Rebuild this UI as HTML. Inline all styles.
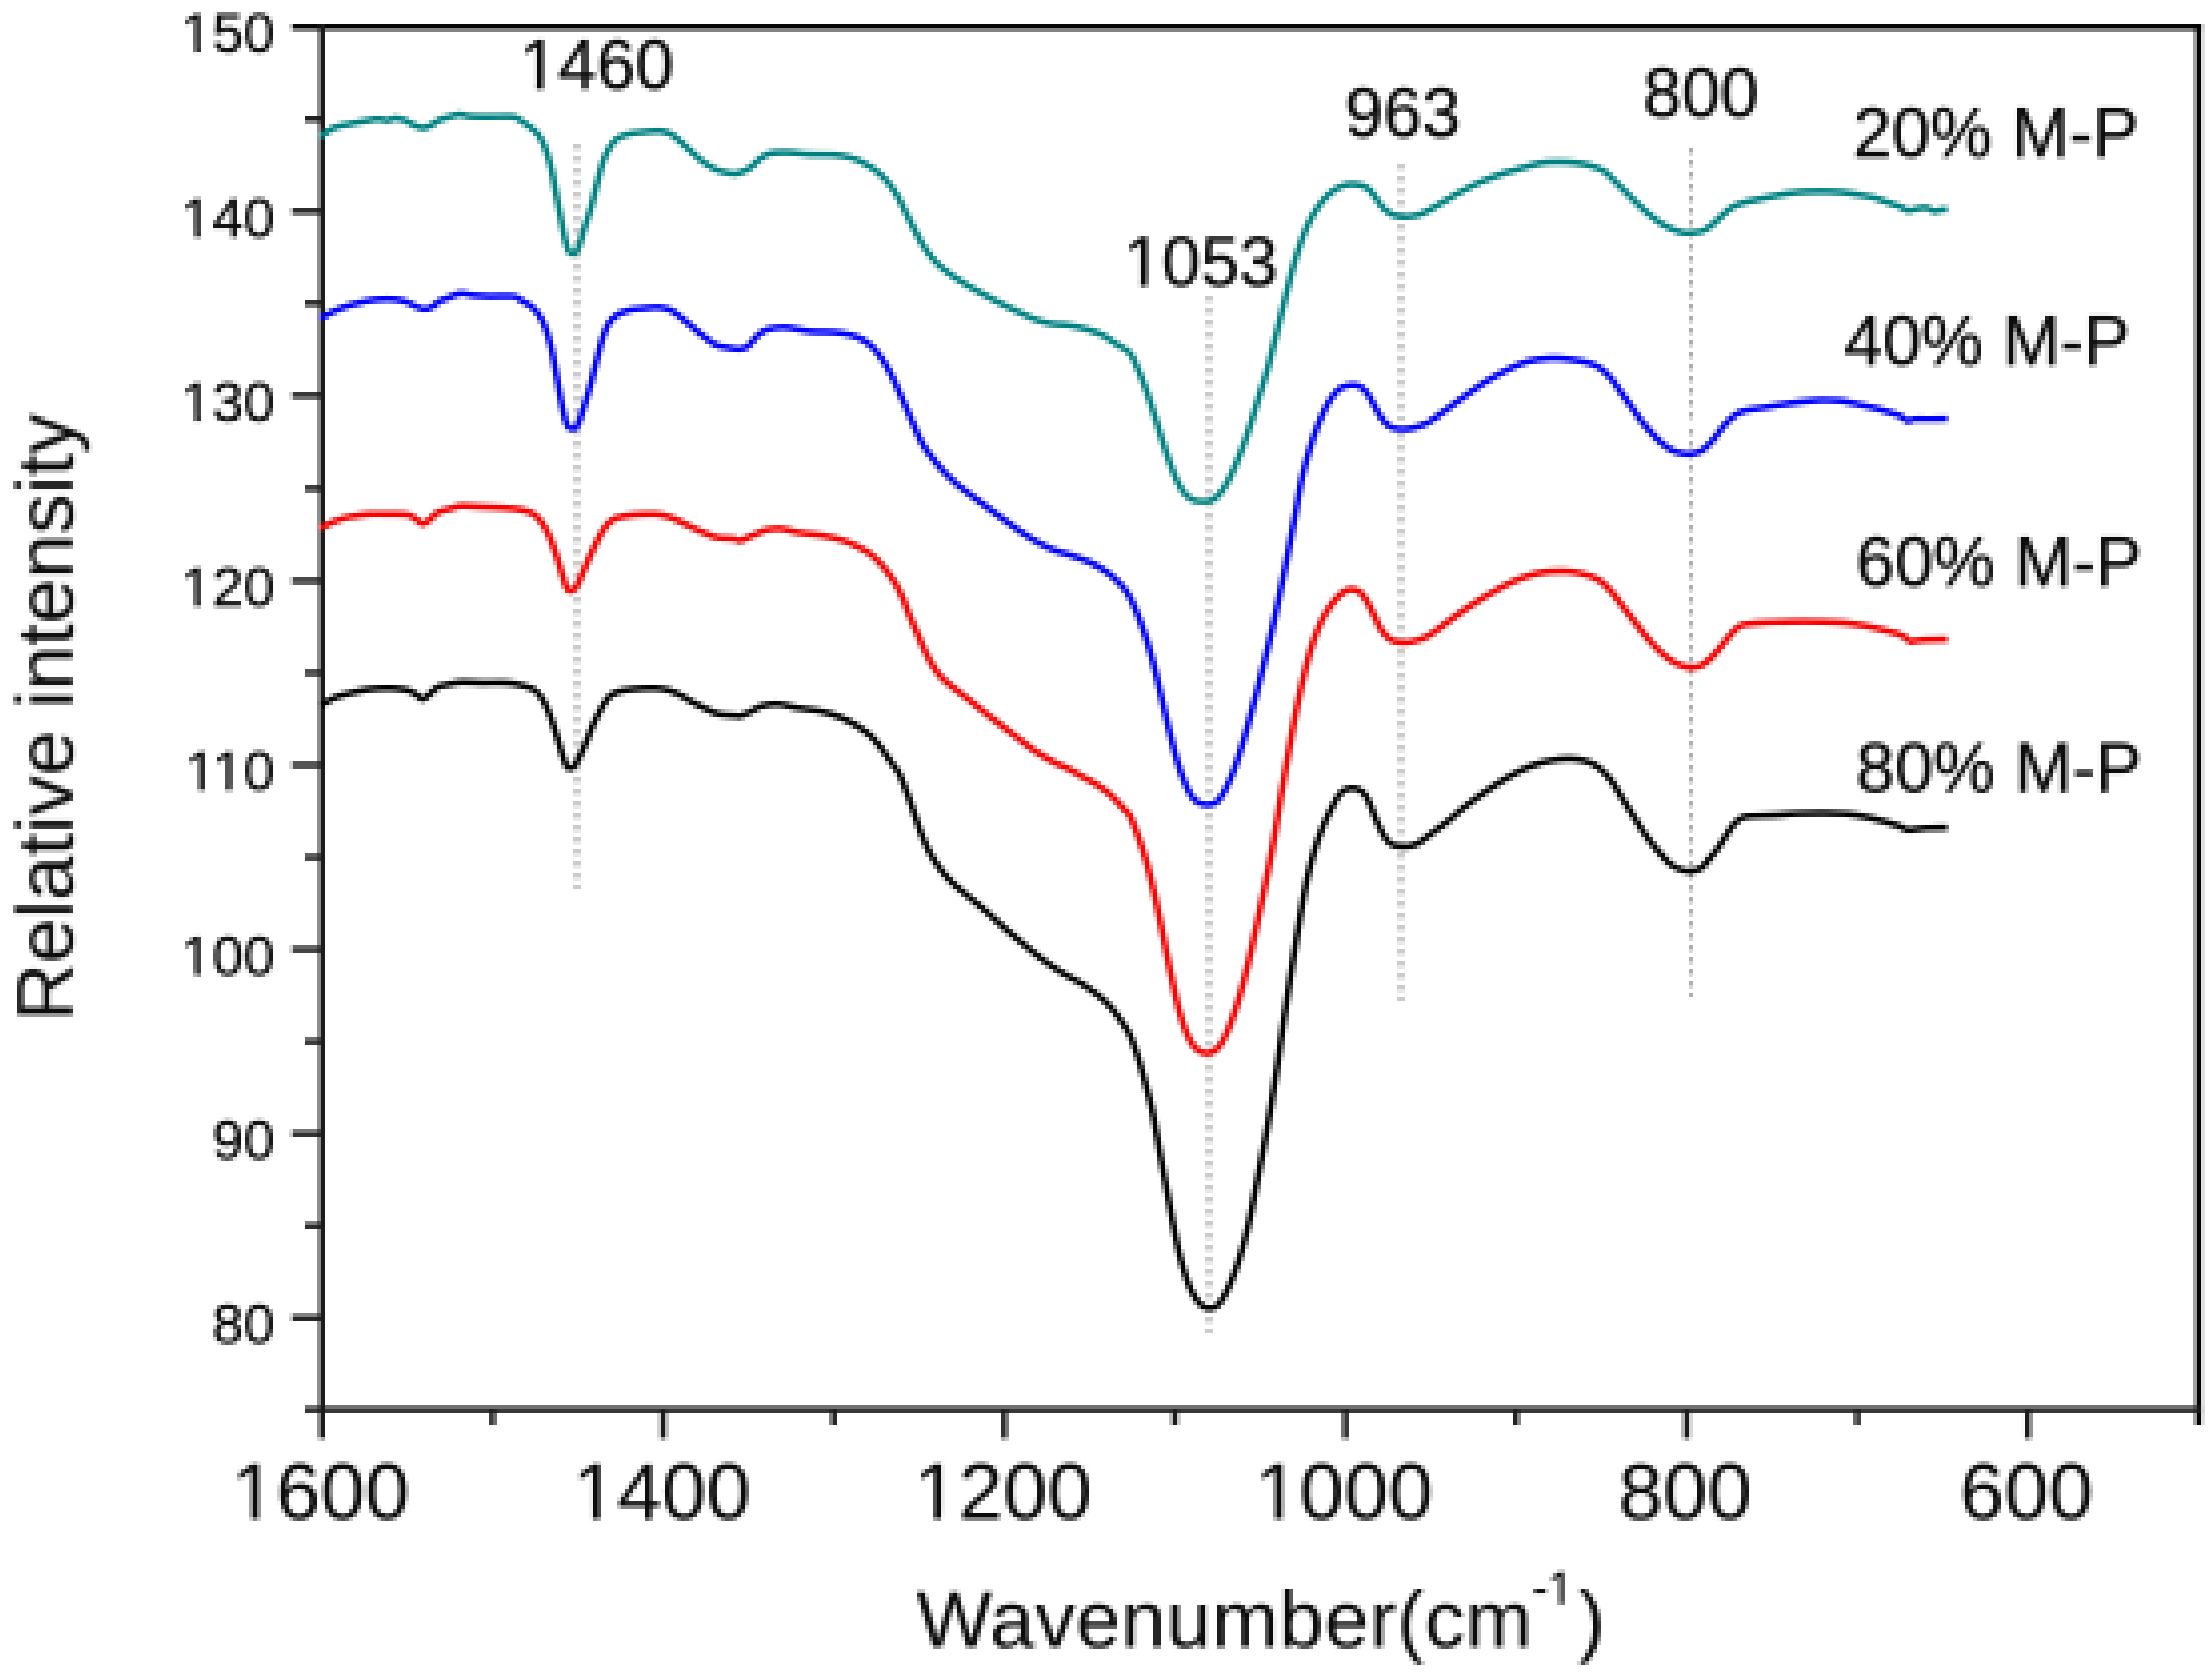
<!DOCTYPE html>
<html lang="en"><head><meta charset="utf-8"><title>FTIR spectra - relative intensity vs wavenumber</title>
<style>html,body{margin:0;padding:0;background:#fff}body{width:2208px;height:1677px;overflow:hidden}svg{display:block}text{font-family:"Liberation Sans",sans-serif;fill:#0c0c0c;stroke:#0c0c0c;stroke-width:0.6}text.big{stroke-width:0.15}</style></head><body>
<svg width="2208" height="1677" viewBox="0 0 2208 1677">
<defs><filter id="fxB" x="0" y="417" width="2208" height="1260" filterUnits="userSpaceOnUse" color-interpolation-filters="sRGB"><feConvolveMatrix in="SourceGraphic" order="4 1" kernelMatrix="1 1 1 1" divisor="4" targetX="0" targetY="0" edgeMode="duplicate" preserveAlpha="false" result="ax"/><feConvolveMatrix in="ax" order="1 4" kernelMatrix="1 1 1 1" divisor="4" targetX="0" targetY="0" edgeMode="duplicate" preserveAlpha="false" result="avg"/><feFlood x="1" y="417" width="1" height="1" flood-color="#000" result="dot"/><feComposite in="dot" in2="dot" operator="over" x="1" y="417" width="4" height="4" result="cell"/><feTile in="cell" result="grid"/><feComposite in="avg" in2="grid" operator="in" result="s0"/><feConvolveMatrix in="s0" order="4 1" kernelMatrix="1 1 1 1" divisor="1" targetX="3" targetY="0" edgeMode="none" preserveAlpha="false" result="e1"/><feConvolveMatrix in="e1" order="1 4" kernelMatrix="1 1 1 1" divisor="1" targetX="0" targetY="3" edgeMode="none" preserveAlpha="false"/></filter><filter id="fxA" x="0" y="0" width="2208" height="420" filterUnits="userSpaceOnUse" color-interpolation-filters="sRGB"><feConvolveMatrix in="SourceGraphic" order="4 1" kernelMatrix="1 1 1 1" divisor="4" targetX="0" targetY="0" edgeMode="duplicate" preserveAlpha="false" result="ax"/><feConvolveMatrix in="ax" order="1 4" kernelMatrix="1 1 1 1" divisor="4" targetX="0" targetY="0" edgeMode="duplicate" preserveAlpha="false" result="avg"/><feFlood x="1" y="0" width="1" height="1" flood-color="#000" result="dot"/><feComposite in="dot" in2="dot" operator="over" x="1" y="0" width="4" height="4" result="cell"/><feTile in="cell" result="grid"/><feComposite in="avg" in2="grid" operator="in" result="s0"/><feConvolveMatrix in="s0" order="4 1" kernelMatrix="1 1 1 1" divisor="1" targetX="3" targetY="0" edgeMode="none" preserveAlpha="false" result="e1"/><feConvolveMatrix in="e1" order="1 4" kernelMatrix="1 1 1 1" divisor="1" targetX="0" targetY="3" edgeMode="none" preserveAlpha="false"/></filter><clipPath id="nofoot" clipPathUnits="userSpaceOnUse"><path clip-rule="evenodd" d="M0 0H2208 V1677 H0ZM183.85 968.69H194.72V977.00H183.85ZM200.30 968.69H210.72V977.00H200.30ZM188.02 784.39H198.89V792.70H188.02ZM204.47 784.39H214.90V792.70H204.47ZM215.15 784.39H226.02V792.70H215.15ZM231.59 784.39H242.02V792.70H231.59ZM183.85 600.19H194.72V608.50H183.85ZM200.30 600.19H210.72V608.50H200.30ZM183.85 414.89H194.72V423.20H183.85ZM200.30 414.89H210.72V423.20H200.30ZM183.85 230.69H194.72V239.00H183.85ZM200.30 230.69H210.72V239.00H200.30ZM183.85 46.39H194.72V54.70H183.85ZM200.30 46.39H210.72V54.70H200.30ZM1260.03 1511.75H1275.06V1521.38H1260.03ZM1282.28 1511.75H1296.68V1521.38H1282.28ZM918.93 1511.75H933.96V1521.38H918.93ZM941.18 1511.75H955.58V1521.38H941.18ZM577.73 1511.75H592.76V1521.38H577.73ZM599.98 1511.75H614.38V1521.38H599.98ZM236.53 1511.75H251.56V1521.38H236.53ZM258.78 1511.75H273.18V1521.38H258.78ZM523.38 81.51H536.56V90.80H523.38ZM543.31 81.51H555.95V90.80H543.31ZM1127.38 279.01H1140.56V288.30H1127.38ZM1147.31 279.01H1159.95V288.30H1147.31ZM1550.02 1598.76H1559.08V1606.30H1550.02ZM1563.75 1598.76H1572.45V1606.30H1563.75Z"/></clipPath></defs>
<g filter="url(#fxB)"><use href="#chart"/></g>
<g filter="url(#fxA)"><g id="chart">
<rect width="2208" height="1677" fill="#fff"/>
<g stroke="#1c1c1c" stroke-width="6.0" fill="none">
<path stroke="#070707" d="M292.0 27.0 H2201.5"/>
<path stroke="#030303" d="M2198.5 24.0 V1425.1"/>
<path d="M305.0 1409.4 H2201.5"/>
<path d="M322.0 24.0 V1438.6"/>
<path d="M292.0 1317.8 H322.0"/>
<path d="M305.0 1225.7 H322.0"/>
<path d="M292.0 1133.6 H322.0"/>
<path d="M305.0 1041.4 H322.0"/>
<path d="M292.0 949.3 H322.0"/>
<path d="M305.0 857.2 H322.0"/>
<path d="M292.0 765.0 H322.0"/>
<path d="M305.0 672.9 H322.0"/>
<path d="M292.0 580.8 H322.0"/>
<path d="M305.0 488.6 H322.0"/>
<path d="M292.0 395.5 H322.0"/>
<path d="M305.0 303.4 H322.0"/>
<path d="M292.0 211.3 H322.0"/>
<path d="M305.0 119.1 H322.0"/>
<path d="M2027.9 1409.4 V1438.6"/>
<path d="M1857.3 1409.4 V1425.1"/>
<path d="M1686.7 1409.4 V1438.6"/>
<path d="M1516.1 1409.4 V1425.1"/>
<path d="M1345.5 1409.4 V1438.6"/>
<path d="M1174.9 1409.4 V1425.1"/>
<path d="M1004.4 1409.4 V1438.6"/>
<path d="M833.8 1409.4 V1425.1"/>
<path d="M663.2 1409.4 V1438.6"/>
<path d="M492.6 1409.4 V1425.1"/>
</g>
<line x1="577.0" y1="144" x2="577.0" y2="412" stroke="#cbcbcb" stroke-width="8.0" stroke-dasharray="4 8"/>
<line x1="577.0" y1="417" x2="577.0" y2="889" stroke="#cbcbcb" stroke-width="8.0" stroke-dasharray="4 8"/>
<line x1="577.0" y1="148" x2="577.0" y2="416" stroke="#e9e9e9" stroke-width="8.0" stroke-dasharray="4 8"/>
<line x1="577.0" y1="421" x2="577.0" y2="881" stroke="#e9e9e9" stroke-width="8.0" stroke-dasharray="4 8"/>
<line x1="1209.0" y1="296" x2="1209.0" y2="420" stroke="#cbcbcb" stroke-width="8.0" stroke-dasharray="4 8"/>
<line x1="1209.0" y1="429" x2="1209.0" y2="1333" stroke="#cbcbcb" stroke-width="8.0" stroke-dasharray="4 8"/>
<line x1="1209.0" y1="300" x2="1209.0" y2="412" stroke="#e9e9e9" stroke-width="8.0" stroke-dasharray="4 8"/>
<line x1="1209.0" y1="421" x2="1209.0" y2="1325" stroke="#e9e9e9" stroke-width="8.0" stroke-dasharray="4 8"/>
<line x1="1401.0" y1="164" x2="1401.0" y2="420" stroke="#cbcbcb" stroke-width="8.0" stroke-dasharray="4 8"/>
<line x1="1401.0" y1="433" x2="1401.0" y2="1001" stroke="#cbcbcb" stroke-width="8.0" stroke-dasharray="4 8"/>
<line x1="1401.0" y1="168" x2="1401.0" y2="412" stroke="#e9e9e9" stroke-width="8.0" stroke-dasharray="4 8"/>
<line x1="1401.0" y1="425" x2="1401.0" y2="993" stroke="#e9e9e9" stroke-width="8.0" stroke-dasharray="4 8"/>
<line x1="1691.0" y1="148" x2="1691.0" y2="416" stroke="#aeaeae" stroke-width="4.0" stroke-dasharray="4 8"/>
<line x1="1691.0" y1="429" x2="1691.0" y2="997" stroke="#aeaeae" stroke-width="4.0" stroke-dasharray="4 8"/>
<line x1="1691.0" y1="152" x2="1691.0" y2="420" stroke="#d8d8d8" stroke-width="4.0" stroke-dasharray="4 8"/>
<line x1="1691.0" y1="433" x2="1691.0" y2="989" stroke="#d8d8d8" stroke-width="4.0" stroke-dasharray="4 8"/>
<path d="M320.0 705.8C322.6 704.3 330.9 699.3 335.9 697.2C340.9 695.1 344.2 694.5 349.9 693.2C355.5 691.9 363.2 690.0 369.8 689.2C376.4 688.4 383.4 688.0 389.7 688.2C396.0 688.4 403.3 689.2 407.6 690.2C411.9 691.2 413.1 692.7 415.6 694.2C418.1 695.7 420.3 699.2 422.6 699.2C424.9 699.2 427.1 696.2 429.6 694.2C432.1 692.2 434.2 688.9 437.5 687.2C440.8 685.5 445.5 685.0 449.5 684.2C453.5 683.4 456.2 682.4 461.5 682.2C466.8 682.0 473.8 682.7 481.4 682.8C489.0 682.9 500.7 682.4 507.3 682.8C513.9 683.2 516.9 684.1 521.2 685.2C525.5 686.3 529.9 687.2 533.2 689.2C536.5 691.2 538.6 693.2 541.2 697.2C543.9 701.2 546.5 706.5 549.1 713.1C551.8 719.7 554.8 729.7 557.1 737.0C559.4 744.3 561.4 752.0 563.1 757.0C564.8 762.0 565.7 765.1 567.1 766.9C568.5 768.7 569.9 768.7 571.5 767.9C573.1 767.1 574.8 765.7 577.0 761.9C579.2 758.1 582.3 751.1 585.0 745.0C587.7 738.9 590.3 731.1 593.0 725.1C595.7 719.1 598.4 713.8 601.0 709.1C603.6 704.5 606.2 700.0 608.9 697.2C611.5 694.4 612.9 693.5 616.9 692.2C620.9 690.9 626.5 689.9 632.8 689.2C639.1 688.5 648.8 688.0 654.8 688.2C660.8 688.4 664.4 689.0 668.7 690.2C673.0 691.4 676.7 693.2 680.7 695.2C684.7 697.2 688.3 699.9 692.6 702.2C696.9 704.5 702.3 707.1 706.6 709.1C710.9 711.1 713.9 713.0 718.5 714.1C723.1 715.2 730.9 715.2 734.5 715.5C738.1 715.8 737.4 716.6 740.0 716.0C742.6 715.4 746.4 713.7 750.0 712.0C753.6 710.3 757.2 707.3 761.9 706.0C766.5 704.7 771.9 703.7 777.9 704.0C783.9 704.3 790.8 706.8 797.8 708.0C804.8 709.2 812.7 709.5 819.7 711.0C826.7 712.5 833.6 714.7 839.6 717.0C845.6 719.3 850.6 722.0 855.6 725.0C860.6 728.0 865.5 731.4 869.5 734.9C873.5 738.4 876.5 742.2 879.5 745.9C882.5 749.6 885.2 753.6 887.5 756.9C889.8 760.2 891.5 762.7 893.5 765.5C895.5 768.3 897.1 769.2 899.4 773.9C901.7 778.6 904.9 787.2 907.4 793.9C909.9 800.5 912.1 807.2 914.4 813.8C916.7 820.4 918.8 827.4 921.3 833.7C923.8 840.0 926.3 846.1 929.3 851.7C932.3 857.4 935.6 862.6 939.3 867.6C942.9 872.6 946.6 877.0 951.2 881.6C955.9 886.2 961.6 890.7 967.2 895.5C972.9 900.3 978.8 905.0 985.1 910.5C991.4 916.0 998.4 922.6 1005.0 928.4C1011.6 934.2 1018.4 939.8 1025.0 945.3C1031.7 950.8 1038.6 956.6 1044.9 961.3C1051.2 965.9 1056.8 969.6 1062.8 973.2C1068.8 976.9 1075.1 979.7 1080.8 983.2C1086.5 986.7 1091.7 990.2 1096.7 994.2C1101.7 998.2 1106.4 1002.3 1110.7 1007.1C1115.0 1011.9 1119.4 1018.4 1122.6 1023.1C1125.8 1027.8 1127.4 1029.5 1130.0 1035.2C1132.6 1040.9 1135.3 1048.8 1138.0 1057.1C1140.7 1065.4 1143.7 1076.7 1145.9 1085.0C1148.2 1093.3 1149.8 1099.5 1151.5 1107.0C1153.2 1114.5 1154.2 1120.4 1155.9 1129.9C1157.6 1139.4 1159.9 1152.8 1161.9 1163.8C1163.9 1174.8 1165.9 1185.1 1167.9 1195.7C1169.9 1206.3 1171.8 1217.5 1173.8 1227.5C1175.8 1237.5 1177.6 1246.8 1179.8 1255.4C1182.0 1264.1 1184.5 1272.8 1186.8 1279.4C1189.1 1286.1 1191.3 1291.0 1193.8 1295.3C1196.3 1299.6 1199.0 1303.1 1201.7 1305.3C1204.4 1307.5 1207.0 1308.3 1209.7 1308.3C1212.4 1308.3 1215.0 1307.8 1217.7 1305.3C1220.4 1302.8 1223.1 1298.3 1225.7 1293.3C1228.3 1288.3 1230.9 1282.4 1233.6 1275.4C1236.2 1268.4 1238.9 1260.8 1241.6 1251.5C1244.3 1242.2 1246.9 1231.6 1249.6 1219.6C1252.2 1207.6 1254.8 1193.3 1257.5 1179.7C1260.2 1166.1 1263.2 1150.7 1265.5 1137.9C1267.8 1125.1 1269.5 1115.0 1271.5 1102.9C1273.5 1090.8 1275.5 1078.4 1277.5 1065.1C1279.5 1051.8 1281.4 1036.8 1283.4 1023.2C1285.4 1009.6 1287.4 996.4 1289.4 983.4C1291.4 970.4 1293.4 957.8 1295.4 945.5C1297.4 933.2 1299.4 920.9 1301.4 909.6C1303.4 898.3 1305.1 888.1 1307.4 877.8C1309.7 867.5 1312.7 856.5 1315.3 847.9C1317.9 839.2 1320.6 832.4 1323.3 825.9C1326.0 819.4 1328.6 814.0 1331.3 808.8C1334.0 803.6 1336.5 798.2 1339.2 794.9C1341.9 791.6 1344.2 789.9 1347.2 788.9C1350.2 787.9 1354.2 787.9 1357.2 788.9C1360.2 789.9 1362.8 791.9 1365.1 794.9C1367.4 797.9 1369.1 802.4 1371.1 806.9C1373.1 811.4 1374.9 817.2 1377.1 822.0C1379.3 826.8 1381.8 832.2 1384.1 835.9C1386.4 839.5 1387.9 842.1 1391.1 843.9C1394.2 845.7 1398.7 846.9 1403.0 846.9C1407.3 846.9 1412.3 846.1 1417.0 843.9C1421.7 841.7 1425.9 837.5 1430.9 833.9C1435.9 830.2 1441.2 826.5 1446.9 822.0C1452.6 817.5 1458.2 812.1 1464.8 806.9C1471.4 801.7 1479.4 795.9 1486.7 790.9C1494.0 785.9 1501.6 781.0 1508.6 777.0C1515.6 773.0 1521.9 769.7 1528.6 767.0C1535.2 764.3 1541.6 762.4 1548.5 761.0C1555.4 759.6 1563.1 758.4 1570.0 758.6C1576.9 758.8 1584.4 760.4 1589.7 762.3C1595.0 764.2 1598.1 767.1 1601.7 770.2C1605.3 773.4 1608.3 776.7 1611.6 781.2C1614.9 785.7 1618.3 791.8 1621.6 797.1C1624.9 802.4 1628.3 807.8 1631.6 813.1C1634.9 818.4 1638.2 824.0 1641.5 829.0C1644.8 834.0 1648.2 838.7 1651.5 843.0C1654.8 847.3 1658.2 851.2 1661.5 854.9C1664.8 858.5 1668.1 862.4 1671.4 864.9C1674.7 867.4 1678.1 868.8 1681.4 869.9C1684.7 871.0 1688.0 871.6 1691.3 871.3C1694.6 871.0 1698.3 870.0 1701.3 867.9C1704.3 865.8 1706.6 862.0 1709.3 858.9C1712.0 855.8 1714.6 852.6 1717.3 849.0C1720.0 845.4 1722.5 841.0 1725.2 837.0C1727.9 833.0 1730.5 828.1 1733.2 825.0C1735.9 821.9 1738.6 819.6 1741.2 818.1C1743.8 816.6 1743.5 816.6 1749.1 816.1C1754.7 815.6 1766.7 815.5 1775.0 815.1C1783.3 814.7 1790.7 813.8 1799.0 813.5C1807.3 813.2 1816.6 813.0 1824.9 813.1C1833.2 813.2 1841.8 813.4 1848.8 814.1C1855.8 814.8 1861.0 815.9 1866.7 817.1C1872.4 818.3 1877.4 819.6 1882.7 821.1C1888.0 822.6 1894.4 824.5 1898.6 826.0C1902.8 827.5 1904.9 829.4 1907.6 830.0C1910.2 830.6 1911.0 829.7 1914.5 829.4C1918.0 829.1 1923.0 828.3 1928.5 828.0C1934.0 827.7 1944.3 827.7 1947.5 827.6" fill="none" stroke="#000000" stroke-width="6.2" stroke-linejoin="round"/>
<path d="M320.0 528.2C322.6 527.0 330.9 522.7 335.9 520.8C340.9 518.9 344.2 517.9 349.9 516.8C355.5 515.7 363.2 514.6 369.8 514.2C376.4 513.8 383.4 514.1 389.7 514.2C396.0 514.3 403.3 514.0 407.6 514.8C411.9 515.6 413.1 517.3 415.6 518.8C418.1 520.3 420.3 523.6 422.6 523.8C424.9 524.0 427.1 521.6 429.6 519.8C432.1 518.0 434.2 514.6 437.5 512.8C440.8 511.0 445.5 510.0 449.5 508.9C453.5 507.8 456.2 506.2 461.5 505.9C466.8 505.6 474.1 506.6 481.4 506.9C488.7 507.2 498.7 507.4 505.3 507.9C511.9 508.4 516.6 508.9 521.2 509.9C525.9 510.9 529.9 511.8 533.2 513.8C536.5 515.8 538.6 518.1 541.2 521.8C543.9 525.5 546.5 529.8 549.1 535.8C551.8 541.8 554.8 550.7 557.1 557.7C559.4 564.7 561.4 572.5 563.1 577.6C564.8 582.8 565.6 586.4 567.1 588.6C568.6 590.8 570.3 591.4 572.1 590.6C573.9 589.8 575.9 587.4 578.0 583.6C580.1 579.8 582.5 573.2 585.0 567.6C587.5 562.0 590.3 555.3 593.0 549.7C595.7 544.1 598.4 538.3 601.0 533.8C603.6 529.3 606.2 525.5 608.9 522.8C611.5 520.1 612.9 519.1 616.9 517.8C620.9 516.5 626.5 515.4 632.8 514.8C639.1 514.2 648.8 513.9 654.8 514.2C660.8 514.5 664.4 515.5 668.7 516.8C673.0 518.1 676.7 520.0 680.7 521.8C684.7 523.6 688.3 525.8 692.6 527.8C696.9 529.8 702.3 532.1 706.6 533.8C710.9 535.5 713.9 537.0 718.5 537.8C723.1 538.6 730.9 538.3 734.5 538.8C738.1 539.3 737.1 541.1 740.0 540.6C742.9 540.1 747.7 537.5 752.0 535.7C756.3 534.0 761.2 531.3 765.9 530.1C770.5 528.9 774.2 528.3 779.9 528.7C785.5 529.1 792.5 531.5 799.8 532.7C807.1 533.9 816.4 534.4 823.7 535.7C831.0 537.0 837.6 538.6 843.6 540.6C849.6 542.6 854.6 544.9 859.6 547.6C864.6 550.3 869.2 553.0 873.5 556.6C877.8 560.2 881.9 565.0 885.5 569.5C889.1 574.0 892.4 578.5 895.4 583.5C898.4 588.5 901.1 594.1 903.4 599.4C905.7 604.7 907.2 610.1 909.4 615.4C911.6 620.7 914.1 626.0 916.4 631.3C918.7 636.6 920.8 642.0 923.3 647.3C925.8 652.6 928.3 658.2 931.3 663.2C934.3 668.2 937.3 672.9 941.3 677.2C945.3 681.5 949.9 684.8 955.2 689.1C960.5 693.4 966.9 698.1 973.2 703.1C979.5 708.1 986.1 713.5 993.1 719.0C1000.1 724.5 1008.0 730.6 1015.0 735.9C1022.0 741.2 1028.2 746.4 1034.9 750.9C1041.6 755.4 1049.4 759.9 1054.9 762.8C1060.4 765.7 1063.3 766.1 1068.0 768.5C1072.7 770.9 1077.7 774.0 1082.8 776.9C1087.9 779.8 1093.7 782.6 1098.7 785.9C1103.7 789.2 1108.4 792.9 1112.7 796.9C1117.0 800.9 1121.7 806.6 1124.6 809.8C1127.5 813.0 1127.8 811.6 1130.0 816.0C1132.2 820.4 1135.3 828.6 1138.0 835.9C1140.7 843.2 1143.2 850.5 1145.9 859.8C1148.6 869.1 1151.2 880.1 1153.9 891.7C1156.6 903.3 1159.2 916.7 1161.9 929.6C1164.6 942.5 1167.2 956.8 1169.9 969.4C1172.6 982.0 1175.2 995.0 1177.8 1005.3C1180.4 1015.6 1183.1 1024.4 1185.8 1031.2C1188.5 1038.0 1191.1 1042.7 1193.8 1046.2C1196.5 1049.7 1199.0 1051.0 1201.7 1052.1C1204.4 1053.2 1207.0 1053.4 1209.7 1052.7C1212.4 1052.0 1215.0 1051.0 1217.7 1048.1C1220.4 1045.2 1223.1 1040.7 1225.7 1035.2C1228.3 1029.7 1230.9 1022.9 1233.6 1015.3C1236.2 1007.7 1238.9 999.0 1241.6 989.4C1244.3 979.8 1246.9 968.8 1249.6 957.5C1252.2 946.2 1254.8 933.9 1257.5 921.6C1260.2 909.3 1262.8 897.0 1265.5 883.7C1268.2 870.4 1270.8 857.0 1273.5 841.9C1276.2 826.8 1279.2 806.7 1281.5 792.9C1283.8 779.1 1285.4 770.3 1287.4 759.0C1289.4 747.7 1291.4 735.8 1293.4 725.2C1295.4 714.6 1297.2 705.3 1299.4 695.3C1301.6 685.3 1304.1 674.4 1306.4 665.4C1308.7 656.4 1310.8 648.8 1313.3 641.5C1315.8 634.2 1318.6 627.1 1321.3 621.5C1324.0 615.9 1326.3 611.9 1329.3 607.6C1332.3 603.3 1335.9 598.6 1339.2 595.6C1342.5 592.6 1345.9 590.3 1349.2 589.6C1352.5 588.9 1356.2 589.6 1359.2 591.6C1362.2 593.6 1364.6 597.6 1367.1 601.6C1369.6 605.6 1371.8 610.9 1374.1 615.5C1376.4 620.1 1378.6 625.7 1381.1 629.5C1383.6 633.3 1386.1 636.3 1389.1 638.5C1392.1 640.7 1395.0 642.0 1399.0 642.5C1403.0 643.0 1408.3 642.5 1413.0 641.5C1417.7 640.5 1421.9 639.2 1426.9 636.5C1431.9 633.8 1436.6 630.0 1442.9 625.5C1449.2 621.0 1457.5 614.6 1464.8 609.6C1472.1 604.6 1479.4 599.9 1486.7 595.6C1494.0 591.3 1501.6 587.0 1508.6 583.7C1515.6 580.4 1521.9 577.7 1528.6 575.7C1535.2 573.7 1541.6 572.4 1548.5 571.7C1555.4 571.0 1563.1 570.8 1570.0 571.5C1576.9 572.2 1584.4 574.2 1589.7 575.9C1595.0 577.6 1598.1 579.2 1601.7 581.9C1605.3 584.6 1608.3 588.1 1611.6 591.9C1614.9 595.7 1618.3 600.5 1621.6 604.8C1624.9 609.1 1628.3 613.5 1631.6 617.8C1634.9 622.1 1638.2 626.6 1641.5 630.7C1644.8 634.9 1648.2 639.0 1651.5 642.7C1654.8 646.4 1658.2 649.7 1661.5 652.7C1664.8 655.7 1668.1 658.5 1671.4 660.6C1674.7 662.8 1678.1 664.4 1681.4 665.6C1684.7 666.8 1688.0 667.6 1691.3 667.6C1694.6 667.6 1698.0 667.3 1701.3 665.6C1704.6 663.9 1708.3 660.4 1711.3 657.6C1714.3 654.8 1716.5 651.9 1719.2 648.7C1721.9 645.6 1724.5 641.9 1727.2 638.7C1729.9 635.5 1732.5 632.0 1735.2 629.7C1737.9 627.4 1738.9 625.9 1743.2 624.8C1747.5 623.6 1753.5 623.3 1761.1 622.8C1768.7 622.3 1779.4 622.0 1789.0 621.8C1798.6 621.6 1809.6 621.6 1818.9 621.8C1828.2 622.0 1837.2 622.1 1844.8 622.8C1852.4 623.5 1858.4 624.6 1864.7 625.8C1871.0 626.9 1877.1 628.3 1882.7 629.7C1888.3 631.1 1894.6 632.7 1898.6 634.1C1902.6 635.5 1904.6 636.9 1906.6 638.2C1908.6 639.5 1908.9 641.3 1910.6 641.7C1912.2 642.1 1913.5 641.0 1916.5 640.7C1919.5 640.4 1923.3 639.9 1928.5 639.7C1933.7 639.5 1944.3 639.4 1947.5 639.3" fill="none" stroke="#ff0000" stroke-width="6.2" stroke-linejoin="round"/>
<path d="M320.0 318.9C322.3 317.6 328.9 313.5 333.9 311.2C338.9 308.9 344.6 306.9 349.9 305.3C355.2 303.7 361.1 302.3 365.8 301.3C370.5 300.3 372.8 299.6 377.8 299.3C382.8 299.0 390.7 298.8 395.7 299.3C400.7 299.8 404.3 301.1 407.6 302.3C410.9 303.5 412.9 305.2 415.6 306.3C418.3 307.4 420.9 309.0 423.6 309.2C426.3 309.4 429.0 308.6 431.6 307.3C434.2 306.0 436.5 303.0 439.5 301.3C442.5 299.6 446.0 298.6 449.5 297.3C453.0 296.0 456.5 293.6 460.5 293.3C464.5 293.0 468.6 294.8 473.4 295.3C478.2 295.8 482.8 296.1 489.4 296.3C496.0 296.5 508.0 295.6 513.3 296.3C518.6 297.0 518.2 298.6 521.2 300.3C524.2 302.0 528.2 303.8 531.2 306.3C534.2 308.8 536.9 311.7 539.2 315.2C541.5 318.7 543.2 321.9 545.2 327.2C547.2 332.5 549.3 339.5 551.1 347.1C552.9 354.7 554.4 364.0 556.1 373.0C557.8 382.0 559.6 393.2 561.1 400.9C562.6 408.5 563.9 414.7 565.1 418.9C566.3 423.1 566.8 424.6 568.1 426.3C569.4 428.0 571.5 429.1 573.1 428.8C574.8 428.5 576.2 428.0 578.0 424.3C579.8 420.6 581.8 413.8 584.0 406.9C586.2 400.0 588.8 391.0 591.0 383.0C593.2 375.0 595.0 366.6 597.0 359.0C599.0 351.4 601.0 343.1 603.0 337.1C605.0 331.1 606.6 326.9 608.9 323.2C611.2 319.5 613.6 317.4 616.9 315.2C620.2 313.0 624.2 311.4 628.9 310.2C633.5 309.0 639.8 308.7 644.8 308.2C649.8 307.7 654.5 307.0 658.8 307.3C663.1 307.6 667.1 308.6 670.7 310.2C674.4 311.8 677.1 314.4 680.7 317.2C684.4 320.0 688.6 323.9 692.6 327.2C696.6 330.5 700.6 334.1 704.6 337.1C708.6 340.1 712.2 343.3 716.5 345.1C720.8 346.9 726.6 347.4 730.5 348.1C734.4 348.8 737.1 349.5 740.0 349.2C742.9 348.9 745.0 348.5 748.0 346.2C751.0 343.9 754.6 338.1 757.9 335.3C761.2 332.5 763.2 330.6 767.9 329.3C772.5 328.0 778.8 327.0 785.8 327.3C792.8 327.6 801.4 330.5 809.7 331.3C818.0 332.1 828.7 331.6 835.7 332.3C842.7 333.0 847.0 334.0 851.6 335.3C856.2 336.6 860.0 338.1 863.6 340.2C867.2 342.3 870.2 344.7 873.5 348.2C876.8 351.7 880.2 356.0 883.5 361.2C886.8 366.4 890.4 373.1 893.4 379.1C896.4 385.1 898.7 391.0 901.4 397.0C904.1 403.0 906.2 407.8 909.4 415.0C912.6 422.2 917.1 433.5 920.4 440.0C923.7 446.5 925.8 449.1 929.3 453.9C932.8 458.7 937.0 464.1 941.3 468.9C945.6 473.7 949.9 478.1 955.2 482.8C960.5 487.5 966.9 492.0 973.2 496.8C979.5 501.6 986.1 506.5 993.1 511.7C1000.1 516.9 1008.0 522.9 1015.0 527.7C1022.0 532.5 1028.6 537.0 1034.9 540.6C1041.2 544.2 1046.2 546.9 1052.9 549.6C1059.6 552.3 1068.2 554.3 1074.8 556.6C1081.4 558.9 1087.0 560.8 1092.7 563.6C1098.4 566.4 1103.7 569.7 1108.7 573.5C1113.7 577.3 1119.0 582.5 1122.6 586.5C1126.1 590.5 1127.4 592.8 1130.0 597.6C1132.6 602.4 1135.3 608.9 1138.0 615.5C1140.7 622.1 1143.2 629.2 1145.9 637.5C1148.6 645.8 1151.2 655.1 1153.9 665.4C1156.6 675.7 1159.2 687.9 1161.9 699.2C1164.6 710.5 1167.2 722.5 1169.9 733.1C1172.6 743.7 1175.2 754.4 1177.8 763.0C1180.4 771.6 1183.1 778.9 1185.8 784.9C1188.5 790.9 1191.1 795.7 1193.8 798.9C1196.5 802.1 1199.0 803.0 1201.7 803.9C1204.4 804.8 1207.0 805.0 1209.7 804.5C1212.4 804.0 1215.0 803.5 1217.7 800.9C1220.4 798.3 1223.1 793.9 1225.7 788.9C1228.3 783.9 1230.9 778.0 1233.6 771.0C1236.2 764.0 1238.9 755.7 1241.6 747.1C1244.3 738.5 1246.9 728.8 1249.6 719.2C1252.2 709.6 1254.8 699.6 1257.5 689.3C1260.2 679.0 1262.8 668.4 1265.5 657.4C1268.2 646.4 1270.8 635.5 1273.5 623.5C1276.2 611.5 1278.8 598.7 1281.5 585.7C1284.2 572.8 1287.1 557.8 1289.4 545.8C1291.7 533.8 1293.4 524.7 1295.4 513.9C1297.4 503.1 1299.4 490.4 1301.4 480.9C1303.4 471.4 1305.2 464.6 1307.4 457.0C1309.6 449.4 1312.0 441.6 1314.3 435.0C1316.6 428.4 1318.8 422.7 1321.3 417.1C1323.8 411.5 1326.3 405.9 1329.3 401.2C1332.3 396.5 1335.9 391.9 1339.2 389.2C1342.5 386.5 1345.9 385.7 1349.2 385.2C1352.5 384.7 1356.2 384.9 1359.2 386.2C1362.2 387.5 1364.6 390.0 1367.1 393.2C1369.6 396.4 1371.8 401.2 1374.1 405.2C1376.4 409.2 1378.6 413.6 1381.1 417.1C1383.6 420.6 1386.1 424.1 1389.1 426.1C1392.1 428.1 1395.0 428.8 1399.0 429.1C1403.0 429.4 1408.3 429.1 1413.0 428.1C1417.7 427.1 1421.9 425.8 1426.9 423.1C1431.9 420.4 1436.6 416.6 1442.9 412.1C1449.2 407.6 1457.5 401.4 1464.8 396.2C1472.1 391.0 1479.4 385.7 1486.7 381.2C1494.0 376.7 1501.6 372.6 1508.6 369.3C1515.6 366.0 1521.9 363.1 1528.6 361.3C1535.2 359.5 1541.6 358.6 1548.5 358.3C1555.4 358.0 1563.1 358.5 1570.0 359.3C1576.9 360.1 1584.4 361.6 1589.7 363.2C1595.0 364.8 1598.1 366.5 1601.7 369.2C1605.3 371.9 1608.3 375.1 1611.6 379.1C1614.9 383.1 1618.3 388.5 1621.6 393.1C1624.9 397.8 1628.3 402.4 1631.6 407.0C1634.9 411.6 1638.2 416.7 1641.5 421.0C1644.8 425.3 1648.2 429.2 1651.5 432.9C1654.8 436.5 1658.2 440.1 1661.5 442.9C1664.8 445.7 1668.1 448.2 1671.4 449.9C1674.7 451.6 1678.1 452.6 1681.4 453.3C1684.7 454.0 1688.0 454.3 1691.3 453.9C1694.6 453.5 1698.0 452.9 1701.3 450.9C1704.6 448.9 1708.3 445.1 1711.3 441.9C1714.3 438.7 1716.5 435.2 1719.2 431.9C1721.9 428.6 1724.5 424.8 1727.2 422.0C1729.9 419.2 1732.2 416.9 1735.2 415.0C1738.2 413.1 1740.9 411.8 1745.2 410.6C1749.5 409.4 1755.5 408.9 1761.1 408.0C1766.7 407.1 1772.7 406.0 1779.0 405.0C1785.3 404.0 1792.3 402.9 1799.0 402.1C1805.7 401.3 1812.3 400.3 1818.9 400.1C1825.5 399.9 1832.5 400.1 1838.8 400.7C1845.1 401.3 1850.7 402.8 1856.7 404.0C1862.7 405.2 1869.4 406.7 1874.7 408.0C1880.0 409.3 1884.3 410.7 1888.6 412.0C1892.9 413.3 1897.4 414.5 1900.6 416.0C1903.8 417.5 1905.3 420.5 1907.6 421.0C1909.9 421.5 1911.0 419.3 1914.5 419.0C1918.0 418.7 1923.0 419.1 1928.5 419.0C1934.0 418.9 1944.3 418.7 1947.5 418.6" fill="none" stroke="#0000ff" stroke-width="6.2" stroke-linejoin="round"/>
<path d="M320.0 136.8C322.3 135.3 328.9 130.0 333.9 127.9C338.9 125.8 344.6 125.1 349.9 123.9C355.2 122.7 361.1 121.7 365.8 120.9C370.5 120.1 374.2 119.0 377.8 118.9C381.4 118.8 384.9 120.6 387.7 120.5C390.5 120.4 392.0 118.3 394.7 118.2C397.4 118.1 400.5 118.8 403.7 119.9C406.9 121.0 410.5 123.6 413.6 124.9C416.8 126.2 419.6 127.9 422.6 127.9C425.6 127.9 428.8 126.2 431.6 124.9C434.4 123.6 436.5 121.2 439.5 119.9C442.5 118.6 446.2 117.8 449.5 116.9C452.8 116.0 456.2 114.4 459.5 114.3C462.8 114.2 464.4 115.9 469.4 116.3C474.4 116.7 482.1 116.8 489.4 116.9C496.7 117.0 508.0 116.2 513.3 116.9C518.6 117.6 518.2 119.1 521.2 120.9C524.2 122.7 528.2 125.4 531.2 127.9C534.2 130.4 536.9 132.6 539.2 135.9C541.5 139.2 543.2 142.5 545.2 147.8C547.2 153.1 549.3 160.2 551.1 167.8C552.9 175.5 554.4 185.1 556.1 193.7C557.8 202.3 559.6 212.0 561.1 219.6C562.6 227.2 563.8 234.2 565.1 239.5C566.4 244.8 567.6 249.1 569.1 251.4C570.6 253.7 572.5 254.2 574.1 253.4C575.8 252.6 577.4 250.5 579.0 246.5C580.6 242.5 582.0 236.0 584.0 229.5C586.0 223.0 588.8 215.2 591.0 207.6C593.2 200.0 595.0 191.3 597.0 183.7C599.0 176.1 601.0 167.6 603.0 161.8C605.0 156.0 606.6 152.6 608.9 148.8C611.2 145.0 613.6 141.4 616.9 138.9C620.2 136.4 624.2 135.1 628.9 133.9C633.5 132.7 639.8 132.4 644.8 131.9C649.8 131.4 654.5 130.6 658.8 130.9C663.1 131.2 667.1 132.1 670.7 133.9C674.4 135.7 677.1 138.8 680.7 141.9C684.4 145.1 688.6 149.3 692.6 152.8C696.6 156.3 700.6 160.0 704.6 162.8C708.6 165.6 711.9 168.0 716.5 169.8C721.1 171.6 728.6 173.2 732.5 173.7C736.4 174.2 737.1 173.8 740.0 172.8C742.9 171.8 746.7 170.2 750.0 167.9C753.3 165.6 756.6 161.3 759.9 158.9C763.2 156.5 765.6 154.6 769.9 153.5C774.2 152.4 779.2 152.2 785.8 152.3C792.4 152.4 801.4 153.9 809.7 154.3C818.0 154.7 828.7 154.3 835.7 154.9C842.7 155.5 846.6 156.4 851.6 157.9C856.6 159.4 861.2 161.6 865.5 163.9C869.8 166.2 873.8 168.8 877.5 171.8C881.2 174.8 884.2 177.8 887.5 181.8C890.8 185.8 894.4 190.8 897.4 195.8C900.4 200.8 902.7 206.4 905.4 211.7C908.1 217.0 910.4 221.9 913.4 227.6C916.4 233.2 919.6 239.9 923.3 245.6C926.9 251.2 931.0 256.9 935.3 261.5C939.6 266.1 943.6 269.4 949.2 273.5C954.9 277.6 962.2 282.2 969.2 286.4C976.2 290.5 983.5 294.4 991.1 298.4C998.7 302.4 1007.7 306.8 1015.0 310.3C1022.3 313.8 1028.9 317.1 1034.9 319.3C1040.9 321.5 1045.2 322.7 1050.9 323.7C1056.6 324.7 1062.8 324.4 1068.8 325.3C1074.8 326.2 1081.0 327.6 1086.7 329.3C1092.4 331.0 1097.7 332.8 1102.7 335.3C1107.7 337.8 1112.0 341.2 1116.6 344.2C1121.1 347.2 1126.4 349.1 1130.0 353.3C1133.6 357.5 1135.3 363.3 1138.0 369.3C1140.7 375.3 1143.2 381.9 1145.9 389.2C1148.6 396.5 1151.2 404.8 1153.9 413.1C1156.6 421.4 1159.2 430.7 1161.9 439.0C1164.6 447.3 1167.2 455.7 1169.9 462.9C1172.6 470.1 1175.2 477.1 1177.8 482.4C1180.4 487.7 1183.1 491.8 1185.8 494.8C1188.5 497.8 1191.1 499.2 1193.8 500.3C1196.5 501.4 1198.7 501.5 1201.7 501.5C1204.7 501.5 1208.7 501.6 1211.7 500.3C1214.7 499.0 1217.1 496.9 1219.7 493.8C1222.3 490.7 1224.9 486.7 1227.6 481.9C1230.2 477.1 1232.9 471.0 1235.6 464.9C1238.3 458.8 1240.9 452.3 1243.6 445.0C1246.3 437.7 1248.9 429.4 1251.6 421.1C1254.2 412.8 1256.8 403.8 1259.5 395.2C1262.2 386.6 1265.2 377.6 1267.5 369.3C1269.8 361.0 1271.5 353.4 1273.5 345.4C1275.5 337.4 1277.5 329.5 1279.5 321.5C1281.5 313.5 1283.4 305.5 1285.4 297.5C1287.4 289.5 1289.2 281.6 1291.4 273.6C1293.6 265.6 1295.7 257.7 1298.4 249.7C1301.1 241.7 1304.2 232.8 1307.4 225.8C1310.6 218.8 1313.7 213.2 1317.3 207.9C1320.9 202.6 1325.3 197.5 1329.3 193.9C1333.3 190.3 1336.9 187.9 1341.2 186.3C1345.5 184.7 1350.9 184.0 1355.2 184.3C1359.5 184.6 1363.8 185.8 1367.1 187.9C1370.4 190.0 1372.4 193.6 1375.1 196.9C1377.8 200.2 1380.1 204.9 1383.1 207.9C1386.1 210.9 1389.4 213.3 1393.1 214.8C1396.8 216.3 1400.7 216.8 1405.0 216.8C1409.3 216.8 1414.0 216.5 1419.0 214.8C1424.0 213.2 1428.3 210.6 1434.9 206.9C1441.5 203.2 1451.2 197.1 1458.8 192.9C1466.4 188.8 1473.1 185.3 1480.7 182.0C1488.3 178.7 1497.9 175.2 1504.6 173.0C1511.2 170.8 1517.0 169.5 1520.6 168.5C1524.1 167.5 1522.4 167.8 1525.9 166.9C1529.5 166.0 1536.6 163.7 1541.9 162.9C1547.2 162.1 1552.2 161.9 1557.8 161.9C1563.4 161.9 1570.1 162.2 1575.8 162.9C1581.5 163.6 1587.0 164.6 1591.7 165.9C1596.4 167.2 1600.1 168.6 1603.7 170.9C1607.3 173.2 1609.9 176.4 1613.6 179.9C1617.2 183.4 1621.6 187.8 1625.6 191.8C1629.6 195.8 1633.5 200.0 1637.5 203.8C1641.5 207.6 1645.5 211.4 1649.5 214.7C1653.5 218.0 1657.5 221.2 1661.5 223.7C1665.5 226.2 1669.8 228.2 1673.4 229.7C1677.1 231.2 1680.1 232.2 1683.4 232.7C1686.7 233.2 1690.0 233.0 1693.3 232.7C1696.6 232.4 1700.0 232.2 1703.3 230.7C1706.6 229.2 1710.0 226.4 1713.3 223.7C1716.6 221.0 1720.2 217.3 1723.2 214.7C1726.2 212.0 1727.9 209.8 1731.2 207.8C1734.5 205.8 1738.2 204.3 1743.2 202.8C1748.2 201.3 1754.8 200.1 1761.1 198.8C1767.4 197.5 1774.7 195.9 1781.0 194.8C1787.3 193.7 1792.3 192.8 1799.0 192.2C1805.7 191.6 1813.9 191.4 1820.9 191.4C1827.9 191.4 1834.5 191.6 1840.8 192.2C1847.1 192.8 1853.0 193.9 1858.7 194.8C1864.4 195.7 1869.7 196.5 1874.7 197.8C1879.7 199.1 1884.3 201.3 1888.6 202.8C1892.9 204.3 1897.3 205.5 1900.6 206.8C1903.9 208.1 1905.9 210.4 1908.6 210.7C1911.2 211.0 1913.5 209.3 1916.5 208.8C1919.5 208.3 1923.5 207.4 1926.5 207.8C1929.5 208.2 1931.9 211.0 1934.5 211.3C1937.1 211.6 1939.8 209.9 1942.0 209.6C1944.2 209.3 1946.6 209.4 1947.5 209.4" fill="none" stroke="#008080" stroke-width="6.2" stroke-linejoin="round"/>
<g id="htext" clip-path="url(#nofoot)">
<text x="274.8" y="1343.2" font-size="56.3" text-anchor="end">80</text>
<text x="274.8" y="1159.0" font-size="56.3" text-anchor="end">90</text>
<text x="274.8" y="974.7" font-size="56.3" text-anchor="end">100</text>
<text x="274.8" y="790.4" font-size="56.3" text-anchor="end">110</text>
<text x="274.8" y="606.2" font-size="56.3" text-anchor="end">120</text>
<text x="274.8" y="420.9" font-size="56.3" text-anchor="end">130</text>
<text x="274.8" y="236.7" font-size="56.3" text-anchor="end">140</text>
<text x="274.8" y="52.4" font-size="56.3" text-anchor="end">150</text>
<text class="big" x="2026.4" y="1519.3" font-size="80.0" text-anchor="middle">600</text>
<text class="big" x="1685.2" y="1519.3" font-size="80.0" text-anchor="middle">800</text>
<text class="big" x="1344.0" y="1519.3" font-size="80.0" text-anchor="middle">1000</text>
<text class="big" x="1002.9" y="1519.3" font-size="80.0" text-anchor="middle">1200</text>
<text class="big" x="661.7" y="1519.3" font-size="80.0" text-anchor="middle">1400</text>
<text class="big" x="320.5" y="1519.3" font-size="80.0" text-anchor="middle">1600</text>
<text x="596.7" y="88.5" font-size="69.5" text-anchor="middle">1460</text>
<text x="1200.7" y="286.0" font-size="69.5" text-anchor="middle">1053</text>
<text x="1402.7" y="136.5" font-size="69.5" text-anchor="middle">963</text>
<text x="1701.0" y="116.5" font-size="69.5" text-anchor="middle">800</text>
<text x="1853.0" y="157.0" font-size="69.5" text-anchor="start">20% M-P</text>
<text x="1844.0" y="365.0" font-size="69.5" text-anchor="start">40% M-P</text>
<text x="1856.0" y="586.0" font-size="69.5" text-anchor="start">60% M-P</text>
<text x="1856.0" y="792.0" font-size="69.5" text-anchor="start">80% M-P</text>
<text class="big" x="916.5" y="1647.0" font-size="80.0" letter-spacing="0.80">Wavenumber(cm<tspan x="1532.5" y="1604.0" font-size="46.0" letter-spacing="0" stroke-width="0.6">-1</tspan><tspan x="1578.5" y="1647.0" letter-spacing="0">)</tspan></text>
</g>
<text class="big" transform="translate(72.5 717.4) rotate(-90)" font-size="80.4" text-anchor="middle">Relative intensity</text>
</g></g></svg></body></html>
